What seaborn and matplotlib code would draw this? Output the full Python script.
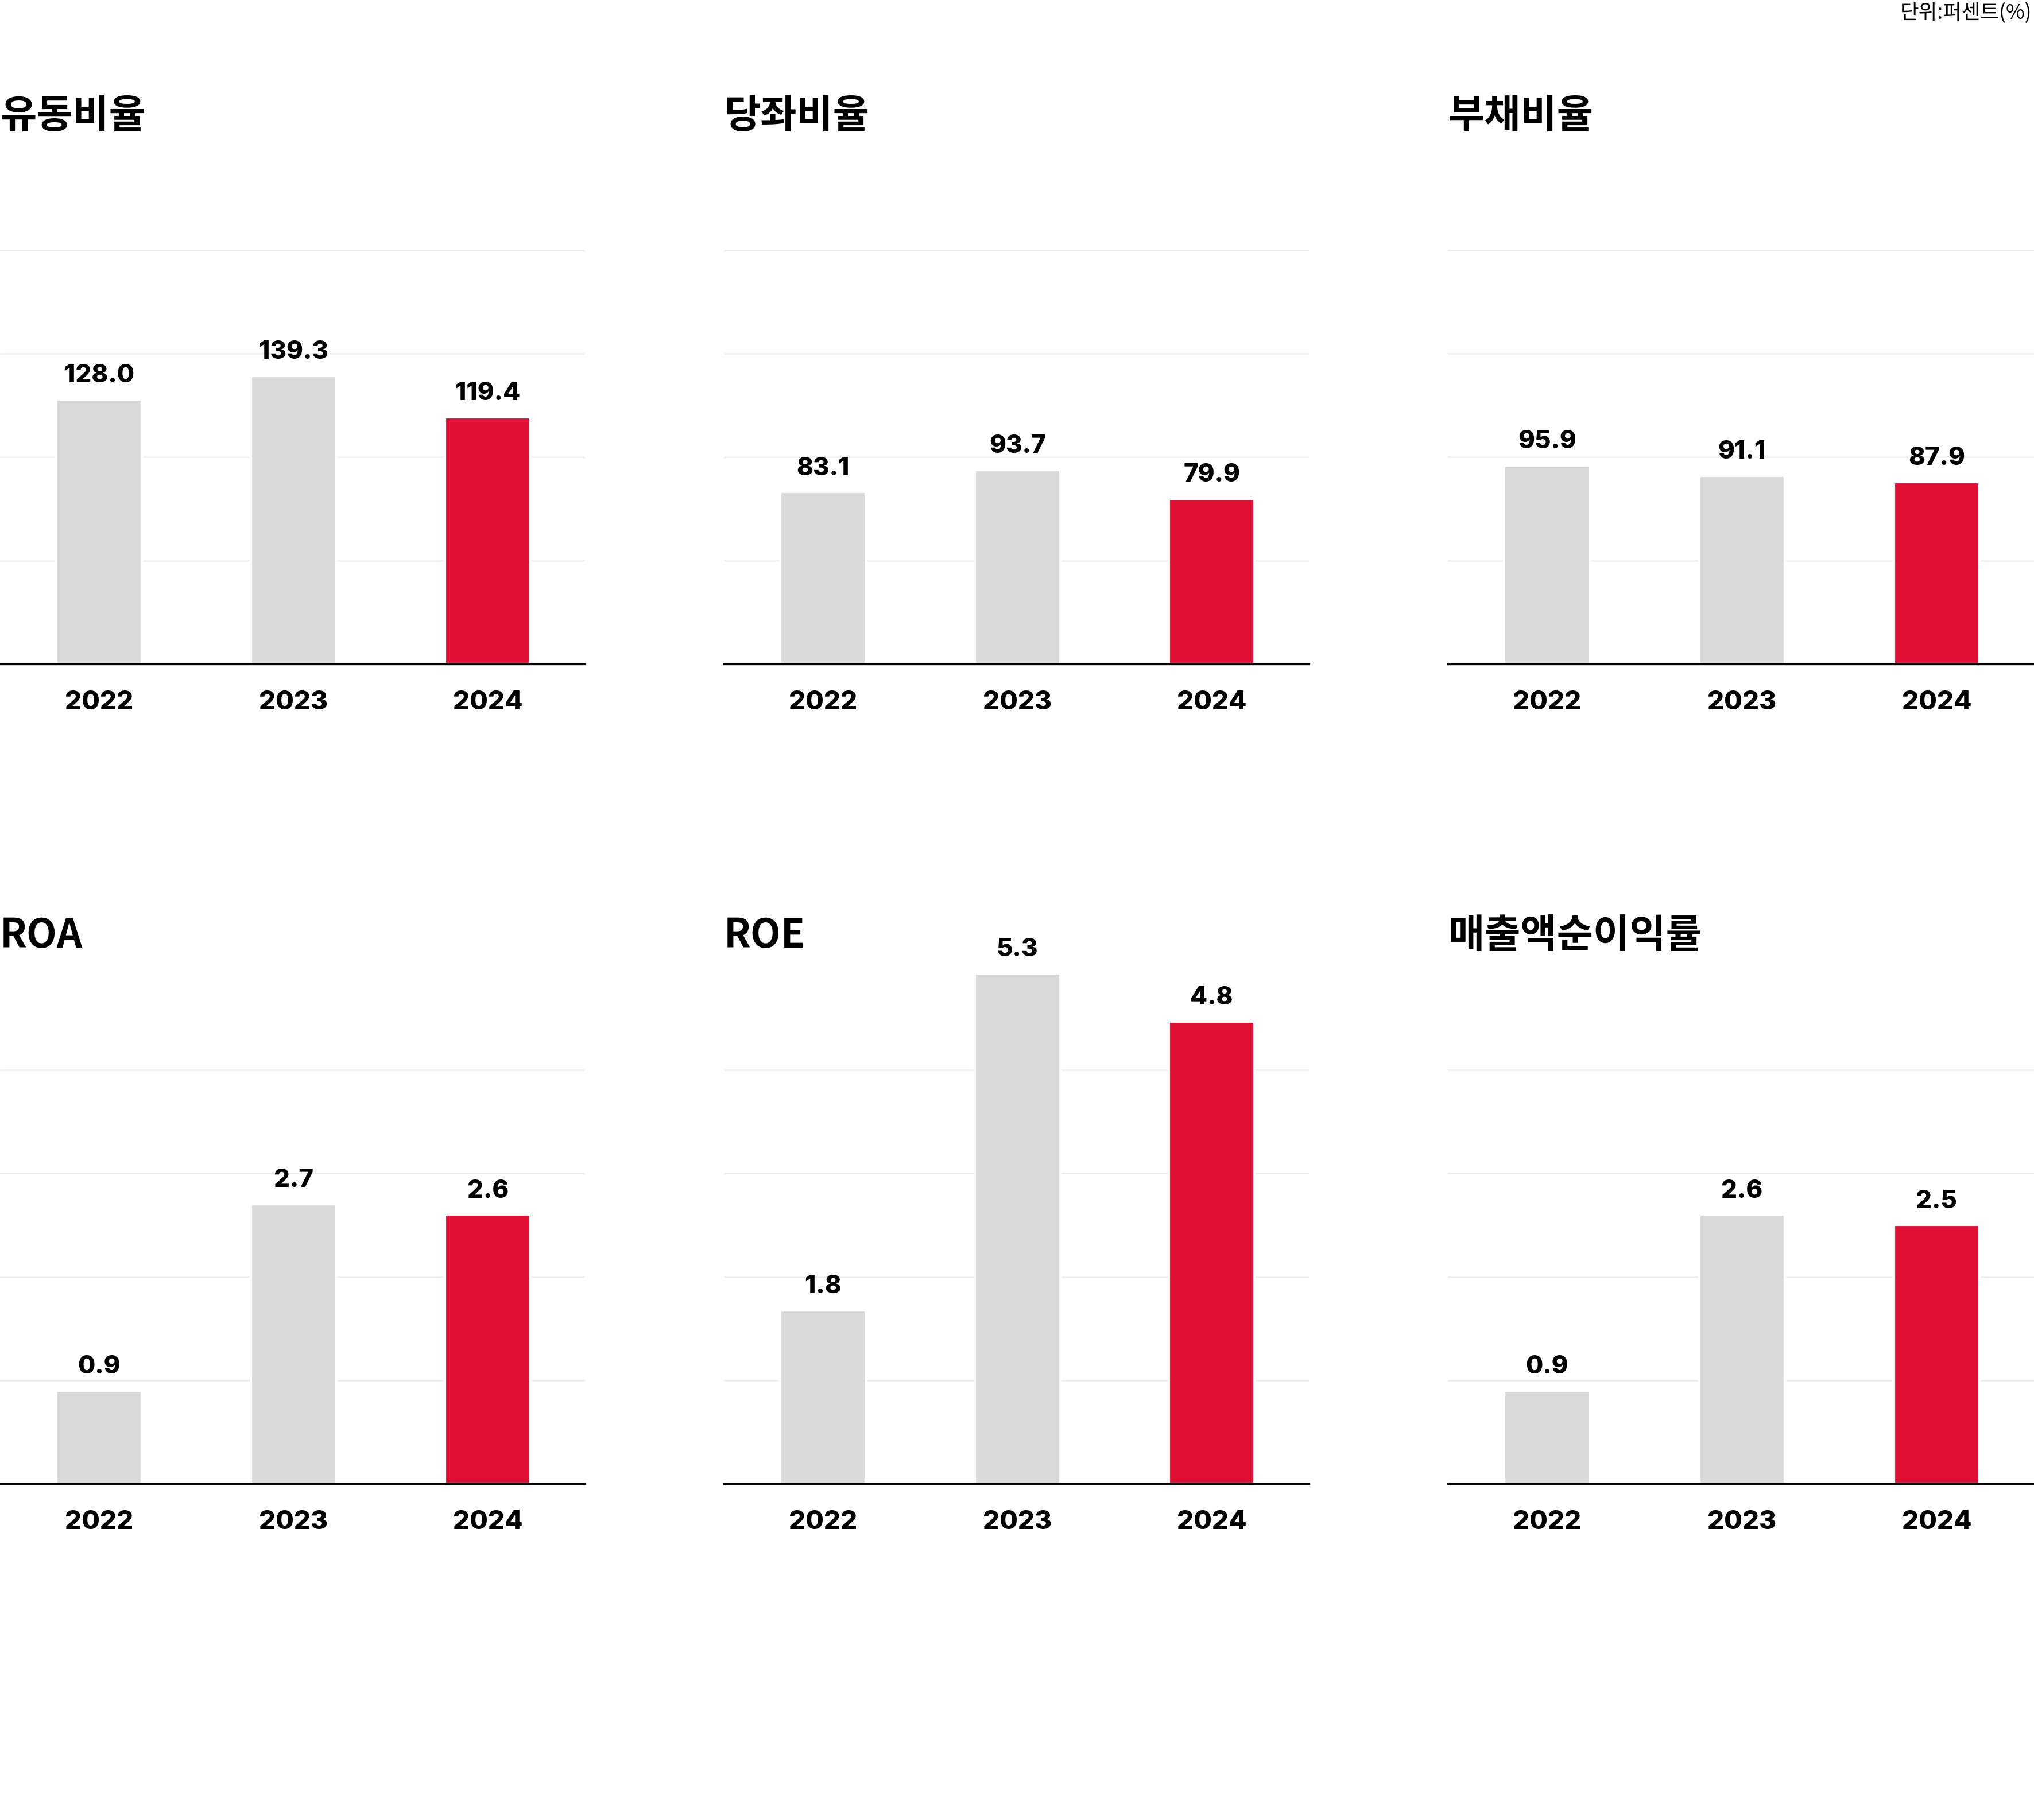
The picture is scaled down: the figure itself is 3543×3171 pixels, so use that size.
import matplotlib
matplotlib.use('Agg')
import matplotlib.pyplot as plt
import seaborn as sns

# chart data
titles = ['유동비율', '당좌비율', '부채비율', 'ROA', 'ROE', '매출액순이익률']
years = ['2022', '2023', '2024']
current_ratio = [128.0, 139.3, 119.4]
quick_ratio = [83.1, 93.7, 79.9]
debt_ratio = [95.9, 91.1, 87.9]
roa = [0.9, 2.7, 2.6]
roe = [1.8, 5.3, 4.8]
net_margin = [0.9, 2.6, 2.5]
series = [current_ratio, quick_ratio, debt_ratio, roa, roe, net_margin]
unit_label = '단위:퍼센트(%)'

# top gridline value for each panel (4 gridline intervals)
grid_tops = [200, 200, 200, 4, 4.3, 4]

bar_colors = ['#D9D9D9', '#D9D9D9', '#E01034']

sns.set_style('white')
plt.rcParams['font.family'] = ['Noto Sans CJK KR', 'DejaVu Sans']
plt.rcParams['text.color'] = 'black'
plt.rcParams['xtick.color'] = 'black'
num_font = ['Inter', 'Noto Sans CJK KR', 'DejaVu Sans']

W, H = 3543, 3171
fig = plt.figure(figsize=(W / 300, H / 300), dpi=300)

col_left = [0, 1261, 2522]
col_width = [1019, 1019, 1021]
row_base = [1157, 2585]
row_title = [203, 1631]
grid_h = 721
ax_h = grid_h * 1.25

for i, (title, vals, top) in enumerate(zip(titles, series, grid_tops)):
    r, c = divmod(i, 3)
    ax = fig.add_axes([col_left[c] / W, 1 - row_base[r] / H,
                       col_width[c] / W, ax_h / H])
    sns.barplot(x=years, y=vals, hue=years, palette=bar_colors, legend=False,
                width=0.44, saturation=1, ax=ax)
    ax.set_xlim(-0.51, 2.5)
    ax.set_ylim(0, top * 1.25)
    ax.set_yticks([top / 4 * k for k in range(1, 5)])
    ax.tick_params(axis='y', length=0, labelleft=False)
    ax.tick_params(axis='x', length=0, pad=11)
    ax.grid(axis='y', color='#EEEEEE', linewidth=0.6)
    ax.set_axisbelow(True)
    for s in ['left', 'top', 'right']:
        ax.spines[s].set_visible(False)
    ax.spines['bottom'].set_color('black')
    ax.spines['bottom'].set_linewidth(0.8)
    ax.set_xlabel('')
    ax.set_ylabel('')
    for lbl in ax.get_xticklabels():
        lbl.set_fontfamily(num_font)
        lbl.set_fontweight(800)
        lbl.set_fontsize(11)
    for k, v in enumerate(vals):
        ax.annotate(f'{v:.1f}', (k, v), xytext=(0, 5), textcoords='offset points',
                    ha='center', va='bottom', fontsize=10.5, fontweight=800,
                    family=num_font)
    fig.text(col_left[c] / W, 1 - row_title[r] / H, title, ha='left', va='center',
             fontsize=16.5, fontweight='bold')

fig.text(0.999, 1 - 23 / H, unit_label, ha='right', va='center',
         fontsize=8.5, fontweight='medium')

plt.savefig('out.png', dpi=300)
